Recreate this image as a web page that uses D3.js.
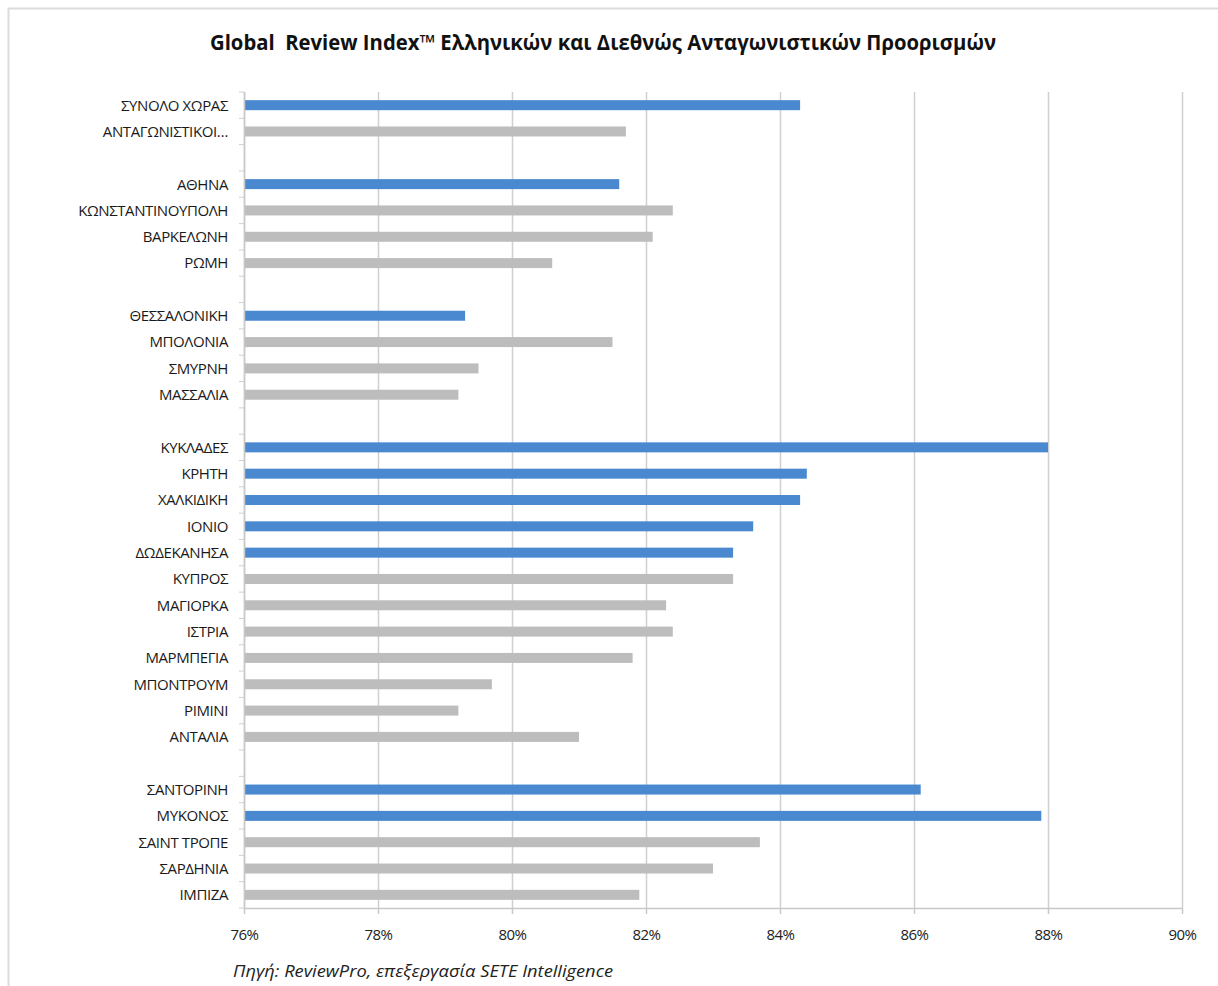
<!DOCTYPE html>
<html>
<head>
<meta charset="utf-8">
<script src="https://cdn.jsdelivr.net/npm/d3@7"></script>
<style>
  html, body { margin: 0; padding: 0; background: #fff; }
  svg { display: block; }
  .keep-space { white-space: pre; }
</style>
</head>
<body>
<svg id="chart" width="1218" height="986"></svg>
<script>
// Destination rows; empty strings are spacer rows between groups
const categories = [
  "ΣΥΝΟΛΟ ΧΩΡΑΣ", "ΑΝΤΑΓΩΝΙΣΤΙΚΟΙ…", "",
  "ΑΘΗΝΑ", "ΚΩΝΣΤΑΝΤΙΝΟΥΠΟΛΗ", "ΒΑΡΚΕΛΩΝΗ", "ΡΩΜΗ", "",
  "ΘΕΣΣΑΛΟΝΙΚΗ", "ΜΠΟΛΟΝΙΑ", "ΣΜΥΡΝΗ", "ΜΑΣΣΑΛΙΑ", "",
  "ΚΥΚΛΑΔΕΣ", "ΚΡΗΤΗ", "ΧΑΛΚΙΔΙΚΗ", "ΙΟΝΙΟ", "ΔΩΔΕΚΑΝΗΣΑ", "ΚΥΠΡΟΣ",
  "ΜΑΓΙΟΡΚΑ", "ΙΣΤΡΙΑ", "ΜΑΡΜΠΕΓΙΑ", "ΜΠΟΝΤΡΟΥΜ", "ΡΙΜΙΝΙ", "ΑΝΤΑΛΙΑ", "",
  "ΣΑΝΤΟΡΙΝΗ", "ΜΥΚΟΝΟΣ", "ΣΑΙΝΤ ΤΡΟΠΕ", "ΣΑΡΔΗΝΙΑ", "ΙΜΠΙΖΑ"
];

// Global Review Index (%) per row
const values = [
  84.3, 81.7, null,
  81.6, 82.4, 82.1, 80.6, null,
  79.3, 81.5, 79.5, 79.2, null,
  88.0, 84.4, 84.3, 83.6, 83.3, 83.3,
  82.3, 82.4, 81.8, 79.7, 79.2, 81.0, null,
  86.1, 87.9, 83.7, 83.0, 81.9
];

// Greek destination (true) vs international competitor (false)
const isGreek = [
  true, false, false,
  true, false, false, false, false,
  true, false, false, false, false,
  true, true, true, true, true, false,
  false, false, false, false, false, false, false,
  true, true, false, false, false
];

const xTicks = [76, 78, 80, 82, 84, 86, 88, 90];

const title = "Global  Review Index™ Ελληνικών και Διεθνώς Ανταγωνιστικών Προορισμών";
const source = "Πηγή: ReviewPro, επεξεργασία SETE Intelligence";

const rows = categories.map((c, i) => ({ id: i, label: c, value: values[i], greek: isGreek[i] }));

const svg = d3.select("#chart");
const margin = { left: 244, right: 36, top: 92, bottom: 78 };
const W = 1218, H = 986;

// Light frame around the chart
svg.append("rect")
  .attr("x", 8.5).attr("y", 8.5)
  .attr("width", 1240).attr("height", 1000)
  .attr("fill", "none").attr("stroke", "#dcdcdc").attr("stroke-width", 2);

const x = d3.scaleLinear().domain([76, 90]).range([margin.left, W - margin.right]);
const y = d3.scaleBand().domain(rows.map(d => d.id)).range([margin.top, H - margin.bottom]).paddingInner(0.62).paddingOuter(0.31);
const yStep = y.step();

// Title
svg.append("text")
  .attr("class", "keep-space")
  .attr("x", 603).attr("y", 50)
  .attr("text-anchor", "middle")
  .attr("font-family", "'Open Sans', 'DejaVu Sans', sans-serif")
  .attr("font-weight", "bold").attr("font-size", 21)
  .attr("fill", "#111")
  .attr("textLength", 786).attr("lengthAdjust", "spacingAndGlyphs")
  .text(title);

// Vertical gridlines
svg.append("g").selectAll("line")
  .data(xTicks)
  .join("line")
  .attr("x1", d => x(d) + 0.5).attr("x2", d => x(d) + 0.5)
  .attr("y1", margin.top).attr("y2", H - margin.bottom)
  .attr("stroke", "#d0d0d0").attr("stroke-width", 1.5);

// Bars
svg.append("g").selectAll("rect")
  .data(rows.filter(d => d.value != null))
  .join("rect")
  .attr("x", x(76))
  .attr("y", d => y(d.id))
  .attr("width", d => x(d.value) - x(76))
  .attr("height", y.bandwidth())
  .attr("fill", d => d.greek ? "#4a88cf" : "#bdbdbd");

// X axis
const xAxis = d3.axisBottom(x).tickValues(xTicks).tickFormat(d => d + "%").tickSize(6).tickSizeOuter(0);
const gx = svg.append("g")
  .attr("transform", `translate(0,${H - margin.bottom})`)
  .call(xAxis);
gx.select(".domain").attr("stroke", "#c8c8c8").attr("stroke-width", 1.5);
gx.selectAll(".tick line").attr("stroke", "#c8c8c8").attr("stroke-width", 1.5);
gx.selectAll(".tick text")
  .attr("dy", "1.55em")
  .attr("font-family", "'Open Sans', sans-serif")
  .attr("font-size", 15).attr("fill", "#222")
  .attr("letter-spacing", "-0.5");

// Y axis: line plus small ticks at row boundaries
const gy = svg.append("g");
gy.append("line")
  .attr("x1", x(76) + 0.5).attr("x2", x(76) + 0.5)
  .attr("y1", margin.top).attr("y2", H - margin.bottom)
  .attr("stroke", "#c8c8c8").attr("stroke-width", 1.5);
gy.selectAll("line.rt")
  .data(d3.range(rows.length + 1))
  .join("line").attr("class", "rt")
  .attr("x1", x(76) - 5).attr("x2", x(76))
  .attr("y1", i => margin.top + i * yStep).attr("y2", i => margin.top + i * yStep)
  .attr("stroke", "#d0d0d0").attr("stroke-width", 1);

// Category labels
gy.selectAll("text")
  .data(rows.filter(d => d.label))
  .join("text")
  .attr("x", 228)
  .attr("y", d => y(d.id) + y.bandwidth() / 2)
  .attr("dy", "0.36em")
  .attr("text-anchor", "end")
  .attr("font-family", "'Open Sans', sans-serif")
  .attr("font-size", 15).attr("fill", "#1a1a1a")
  .attr("letter-spacing", "-0.4")
  .text(d => d.label);

// Source note
svg.append("text")
  .attr("x", 233).attr("y", 977)
  .attr("font-family", "'Open Sans', 'DejaVu Sans', sans-serif")
  .attr("font-style", "italic").attr("font-size", 16)
  .attr("fill", "#222")
  .attr("textLength", 380).attr("lengthAdjust", "spacingAndGlyphs")
  .text(source);
</script>
</body>
</html>
